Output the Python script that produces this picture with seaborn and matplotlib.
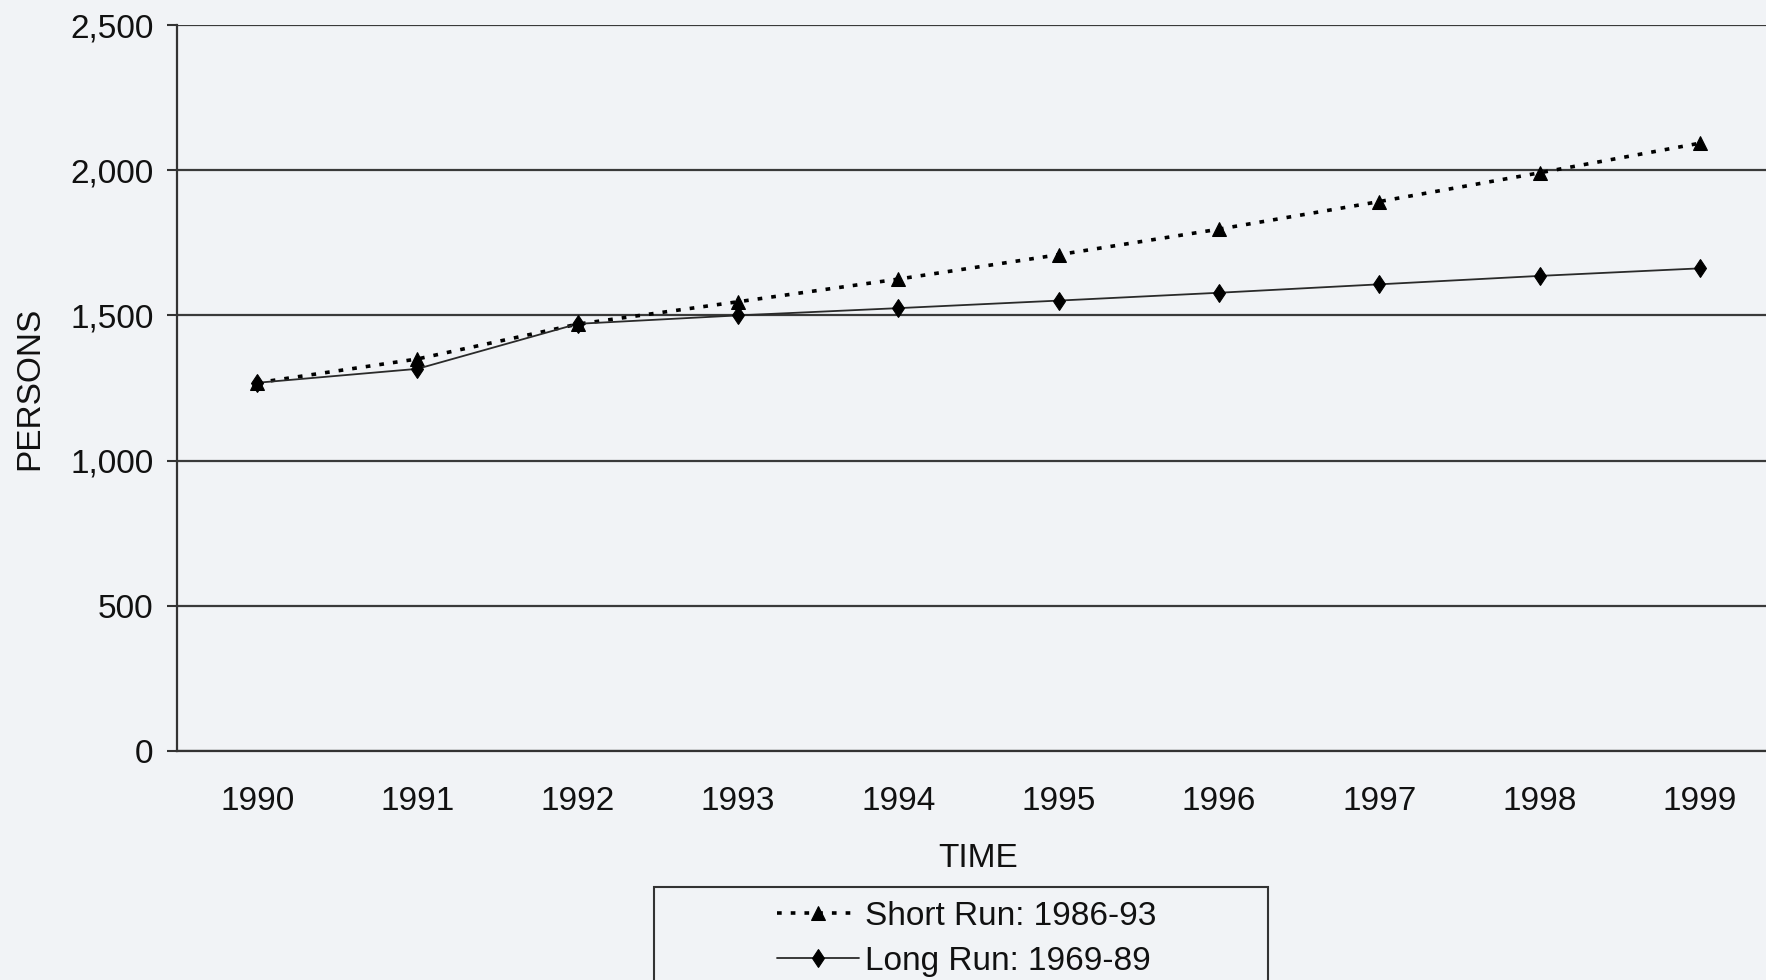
import pandas as pd
import seaborn as sns
import matplotlib.pyplot as plt
from matplotlib.patches import Rectangle

years = [1990, 1991, 1992, 1993, 1994, 1995, 1996, 1997, 1998, 1999]
short_run = [1268, 1350, 1470, 1547, 1625, 1709, 1797, 1892, 1991, 2093]
long_run = [1268, 1316, 1471, 1500, 1525, 1551, 1578, 1607, 1636, 1662]
short_label = 'Short Run: 1986-93'
long_label = 'Long Run: 1969-89'
y_ticks = [0, 500, 1000, 1500, 2000, 2500]
y_ticklabels = ['0', '500', '1,000', '1,500', '2,000', '2,500']

df = pd.DataFrame({'TIME': years, 'short': short_run, 'long': long_run})

sns.set_theme(style='white')
plt.rcParams['font.family'] = ['Liberation Sans', 'DejaVu Sans']
bg = '#f1f3f6'
ink = '#111111'
fs = 24

fig = plt.figure(figsize=(17.66, 9.8), dpi=100, facecolor=bg)
W, H = 1766, 980
ax = fig.add_axes([177 / W, 1 - 751 / H, 1603 / W, 726 / H])
ax.set_facecolor(bg)

sns.lineplot(data=df, x='TIME', y='short', ax=ax, color='black', lw=2.6,
             linestyle=(0, (1.3, 2.5)), marker='^', markersize=10.5,
             markeredgecolor='black', markerfacecolor='black', label=short_label)
sns.lineplot(data=df, x='TIME', y='long', ax=ax, color='#2a2a2a', lw=1.3,
             marker='d', markersize=9.5, markeredgecolor='black',
             markerfacecolor='black', label=long_label)

ax.set_xlim(years[0] - 0.5, years[-1] + 0.5)
ax.set_ylim(y_ticks[0], y_ticks[-1])
ax.set_yticks(y_ticks)
ax.set_yticklabels(y_ticklabels)
ax.set_xticks(years)
ax.set_xticklabels([str(y) for y in years])
ax.set_xticks([y + 0.5 for y in years[:-1]], minor=True)

ax.tick_params(axis='x', which='major', length=0, pad=25, labelsize=fs, labelcolor=ink)
ax.tick_params(axis='x', which='minor', direction='in', length=7, width=1.3, color='#333')
ax.tick_params(axis='y', which='major', direction='out', length=7, width=1.5,
               color='#333', pad=10, labelsize=fs, labelcolor=ink, left=True)

ax.yaxis.grid(True, color='#3a3a3a', lw=1.6)
ax.set_axisbelow(True)
for s in ['top', 'right']:
    ax.spines[s].set_visible(False)
for s in ['left', 'bottom']:
    ax.spines[s].set_color('#333')
    ax.spines[s].set_linewidth(1.6)

ax.set_ylabel('PERSONS', fontsize=fs, color=ink)
ax.set_xlabel('TIME', fontsize=fs, color=ink)
ax.yaxis.set_label_coords(-0.082, 0.5)
ax.xaxis.set_label_coords(0.5, -0.127)

# legend without frame, box drawn separately (wider than the entries)
ax.legend(loc='upper left', bbox_to_anchor=(777 / W, 1 - 901 / H),
          bbox_transform=fig.transFigure, frameon=False, fontsize=fs,
          borderpad=0, borderaxespad=0, labelspacing=0.42, handlelength=2.45,
          handletextpad=0.2, labelcolor=ink)
fig.patches.append(Rectangle((654 / W, -0.05), 614 / W, (980 - 887) / H + 0.05,
                             transform=fig.transFigure, fill=False,
                             edgecolor='#333', lw=1.5))

fig.savefig('out.png', dpi=100, facecolor=bg)
